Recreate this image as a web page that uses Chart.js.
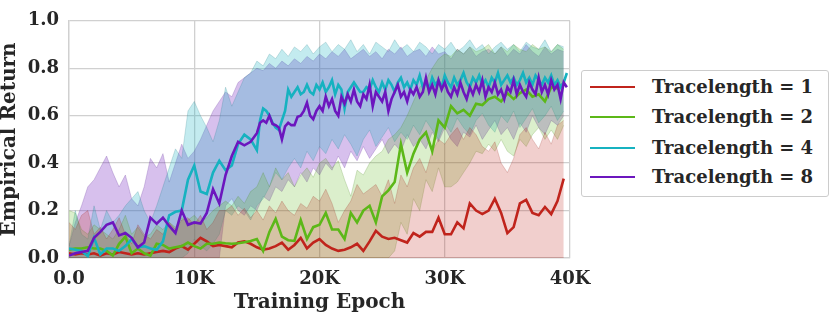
<!DOCTYPE html>
<html><head><meta charset="utf-8">
<script src="https://cdn.jsdelivr.net/npm/chart.js@4.4.0/dist/chart.umd.min.js"></script>
<style>
html,body{margin:0;padding:0;background:#fff;}
#wrap{position:relative;width:831px;height:316px;overflow:hidden;}
#legend{position:absolute;left:581px;top:70px;width:248px;height:127px;border:1px solid #cccccc;border-radius:3px;background:#fff;box-sizing:border-box;font:bold 18px "DejaVu Serif";color:#262626;}
.row{position:absolute;left:0;width:246px;height:30px;display:flex;align-items:center;}
.swatch{position:absolute;left:8px;width:45px;height:2px;}
.lab{position:absolute;left:70px;white-space:nowrap;line-height:30px;}
</style>
</head><body>
<div id="wrap">
<canvas id="c" width="831" height="316"></canvas>
<div id="legend"></div>
</div>
<script>
// ---------- data (x in thousands of epochs) ----------
const epochsCoarse = [0,0.5,1,1.5,2,2.5,3,3.5,4,4.5,5,5.5,6,6.5,7,7.5,8,8.5,9,9.5,
  10,10.5,11,11.5,12,12.5,13,13.5,14,14.5,15,15.5,16,16.5,17,17.5,18,18.5,19,19.5,
  20,20.5,21,21.5,22,22.5,23,23.5,24,24.5,25,25.5,26,26.5,27,27.5,28,28.5,29,29.5,
  30,30.5,31,31.5,32,32.5,33,33.5,34,34.5,35,35.5,36,36.5,37,37.5,38,38.5,39,39.5];
const epochsFine = [15,15.25,15.5,15.75,16,16.25,16.5,16.75,17,17.25,
  17.5,17.75,18,18.25,18.5,18.75,19,19.25,19.5,19.75,
  20,20.25,20.5,20.75,21,21.25,21.5,21.75,22,22.25,
  22.5,22.75,23,23.25,23.5,23.75,24,24.25,24.5,24.75,
  25,25.25,25.5,25.75,26,26.25,26.5,26.75,27,27.25,
  27.5,27.75,28,28.25,28.5,28.75,29,29.25,29.5,29.75,
  30,30.25,30.5,30.75,31,31.25,31.5,31.75,32,32.25,
  32.5,32.75,33,33.25,33.5,33.75,34,34.25,34.5,34.75,
  35,35.25,35.5,35.75,36,36.25,36.5,36.75,37,37.25,
  37.5,37.75,38,38.25,38.5,38.75,39,39.25,39.5,39.75];
const seriesNames = ["Tracelength = 1","Tracelength = 2","Tracelength = 4","Tracelength = 8"];
const xTickLabels = ["0.0","10K","20K","30K","40K"];
const yTickLabels = ["0.0","0.2","0.4","0.6","0.8","1.0"];

// Tracelength = 1 (coarse grid)
const trace1 = [0.02,0.015,0.02,0.015,0.02,0.01,0.02,0.015,0.025,0.02,
  0.015,0.02,0.015,0.02,0.025,0.03,0.025,0.04,0.05,0.035,
  0.06,0.085,0.07,0.05,0.055,0.05,0.045,0.065,0.07,0.06,
  0.045,0.035,0.04,0.05,0.065,0.035,0.055,0.085,0.04,0.065,
  0.08,0.055,0.04,0.03,0.035,0.045,0.06,0.03,0.07,0.115,
  0.09,0.08,0.085,0.075,0.065,0.105,0.09,0.11,0.11,0.17,
  0.1,0.1,0.15,0.125,0.23,0.2,0.185,0.2,0.25,0.19,
  0.105,0.13,0.23,0.245,0.19,0.18,0.215,0.185,0.24,0.335];
const trace1Upper = [0.15,0.12,0.18,0.2,0.1,0.13,0.08,0.12,0.17,0.1,
  0.06,0.14,0.1,0.08,0.12,0.1,0.15,0.12,0.16,0.17,
  0.14,0.18,0.12,0.15,0.2,0.2,0.22,0.18,0.21,0.17,
  0.2,0.16,0.22,0.19,0.24,0.2,0.18,0.23,0.21,0.26,
  0.24,0.29,0.23,0.15,0.2,0.24,0.31,0.27,0.29,0.31,
  0.26,0.33,0.23,0.35,0.3,0.38,0.42,0.36,0.45,0.5,
  0.48,0.52,0.55,0.5,0.55,0.52,0.47,0.45,0.49,0.4,
  0.36,0.42,0.52,0.55,0.5,0.46,0.53,0.48,0.56,0.58];
const trace1Lower = [0,0,0,0,0,0,0,0,0,0,0,0,0,0,0,0,0,0,0,0,
  0,0,0,0,0,0,0,0,0,0,0,0,0,0,0,0,0,0,0,0,
  0,0,0,0,0,0,0,0,0,0,0,0,0,0,0,0,0,0,0,0,
  0,0,0,0,0,0,0,0,0,0,0,0,0,0,0,0,0,0,0,0];

// Tracelength = 2 (coarse grid)
const trace2 = [0.035,0.04,0.04,0.045,0.04,0.04,0.03,0.01,0.06,0.09,
  0.02,0.04,0.02,0.01,0.06,0.055,0.04,0.045,0.05,0.065,
  0.05,0.04,0.06,0.06,0.065,0.062,0.06,0.062,0.066,0.072,
  0.08,0.03,0.11,0.165,0.09,0.075,0.072,0.16,0.08,0.13,
  0.14,0.19,0.12,0.12,0.08,0.19,0.15,0.2,0.22,0.15,
  0.26,0.285,0.32,0.48,0.36,0.44,0.5,0.53,0.45,0.58,
  0.55,0.64,0.61,0.625,0.6,0.65,0.645,0.67,0.68,0.66,
  0.695,0.67,0.695,0.71,0.68,0.69,0.66,0.72,0.715,0.735];
const trace2Upper = [0.2,0.19,0.12,0.1,0.14,0.12,0.1,0.08,0.12,0.18,
  0.1,0.13,0.09,0.1,0.14,0.12,0.15,0.13,0.17,0.16,
  0.18,0.15,0.17,0.2,0.22,0.24,0.22,0.26,0.23,0.28,
  0.3,0.36,0.3,0.38,0.33,0.36,0.3,0.35,0.38,0.34,
  0.4,0.42,0.38,0.41,0.33,0.26,0.37,0.35,0.4,0.43,
  0.45,0.5,0.52,0.55,0.6,0.66,0.72,0.75,0.8,0.84,
  0.86,0.85,0.88,0.86,0.89,0.87,0.88,0.9,0.86,0.89,
  0.87,0.9,0.88,0.87,0.9,0.88,0.89,0.87,0.9,0.88];
const trace2Lower = [0,0,0,0,0,0,0,0,0,0,0,0,0,0,0,0,0,0,0,0,
  0,0,0,0,0,0,0,0,0,0,0,0,0,0,0,0,0,0,0,0,
  0,0,0,0,0,0,0,0,0,0,0,0,0.03,0.15,0.1,0.25,0.2,0.33,0.28,0.38,
  0.3,0.3,0.32,0.36,0.4,0.45,0.44,0.48,0.45,0.5,0.45,0.43,0.5,0.47,0.52,0.55,0.5,0.54,0.5,0.56];

// Tracelength = 4 (coarse grid to 14.5K, then fine grid)
const trace4Early = [0.04,0.035,0.03,0.008,0.085,0.015,0.04,0.04,0.03,0.05,
  0.08,0.045,0.05,0.04,0.035,0.07,0.18,0.195,0.2,0.33,
  0.39,0.28,0.27,0.36,0.41,0.37,0.39,0.48,0.52,0.5];
const trace4Late = [0.455,0.58,0.63,0.62,0.6,0.57,0.55,0.54,0.58,0.62,
  0.71,0.68,0.7,0.72,0.69,0.7,0.73,0.7,0.69,0.73,
  0.71,0.74,0.7,0.72,0.75,0.69,0.73,0.71,0.63,0.7,
  0.72,0.74,0.72,0.7,0.7,0.72,0.71,0.75,0.72,0.7,
  0.74,0.71,0.75,0.73,0.7,0.74,0.76,0.72,0.74,0.71,
  0.75,0.73,0.77,0.72,0.74,0.71,0.76,0.73,0.75,0.72,
  0.77,0.74,0.72,0.76,0.73,0.75,0.78,0.74,0.72,0.76,
  0.74,0.77,0.73,0.75,0.72,0.76,0.74,0.78,0.73,0.75,
  0.77,0.74,0.76,0.73,0.75,0.78,0.74,0.76,0.73,0.77,
  0.75,0.73,0.76,0.74,0.77,0.73,0.75,0.72,0.74,0.78];
const trace4Upper = [0.05,0.2,0.1,0.08,0.22,0.12,0.2,0.15,0.18,0.22,
  0.25,0.28,0.2,0.15,0.22,0.3,0.38,0.46,0.42,0.62,
  0.66,0.6,0.55,0.49,0.58,0.72,0.64,0.7,0.76,0.78,
  0.83,0.81,0.86,0.84,0.88,0.85,0.89,0.87,0.9,0.86,
  0.89,0.91,0.87,0.9,0.88,0.92,0.87,0.9,0.86,0.91,
  0.89,0.87,0.92,0.88,0.9,0.87,0.91,0.89,0.86,0.9,
  0.88,0.91,0.87,0.89,0.92,0.88,0.9,0.86,0.89,0.91,
  0.88,0.9,0.87,0.91,0.89,0.88,0.92,0.87,0.9,0.89];
const trace4Lower = [0,0,0,0,0,0,0,0,0,0,0,0,0,0,0,0,0,0,0,0.02,
  0.08,0.05,0.03,0.06,0.1,0.2,0.18,0.22,0.2,0.16,
  0.22,0.25,0.3,0.36,0.33,0.38,0.42,0.38,0.45,0.41,
  0.47,0.44,0.5,0.46,0.52,0.48,0.43,0.5,0.54,0.47,
  0.51,0.55,0.49,0.53,0.5,0.56,0.52,0.58,0.54,0.5,
  0.57,0.53,0.59,0.55,0.52,0.58,0.61,0.56,0.53,0.6,
  0.57,0.62,0.55,0.59,0.63,0.57,0.6,0.64,0.58,0.62];

// Tracelength = 8 (coarse grid to 14.5K, then fine grid)
const trace8Early = [0.01,0.02,0.025,0.03,0.085,0.11,0.14,0.15,0.095,0.105,
  0.085,0.045,0.065,0.17,0.145,0.17,0.135,0.105,0.2,0.14,
  0.15,0.145,0.19,0.29,0.23,0.35,0.43,0.49,0.475,0.49];
const trace8Late = [0.526,0.57,0.58,0.57,0.6,0.565,0.56,0.55,0.5,0.555,
  0.57,0.56,0.56,0.595,0.6,0.62,0.655,0.6,0.585,0.62,
  0.64,0.62,0.68,0.64,0.67,0.62,0.6,0.68,0.65,0.69,
  0.66,0.71,0.66,0.64,0.69,0.67,0.73,0.64,0.7,0.68,
  0.66,0.7,0.62,0.67,0.7,0.73,0.68,0.7,0.66,0.71,
  0.69,0.72,0.68,0.7,0.76,0.7,0.73,0.69,0.75,0.71,
  0.74,0.7,0.68,0.72,0.69,0.74,0.7,0.67,0.72,0.69,
  0.73,0.7,0.75,0.68,0.72,0.7,0.74,0.69,0.71,0.67,
  0.72,0.7,0.75,0.69,0.73,0.7,0.68,0.74,0.71,0.69,
  0.76,0.7,0.73,0.69,0.75,0.71,0.73,0.67,0.74,0.72];
const trace8Upper = [0.05,0.15,0.22,0.3,0.33,0.38,0.43,0.36,0.3,0.35,
  0.25,0.22,0.3,0.42,0.38,0.44,0.32,0.4,0.48,0.42,
  0.45,0.5,0.56,0.62,0.66,0.7,0.68,0.74,0.76,0.78,
  0.8,0.79,0.82,0.8,0.83,0.81,0.84,0.82,0.85,0.83,
  0.86,0.84,0.87,0.85,0.88,0.84,0.86,0.88,0.85,0.87,
  0.84,0.88,0.86,0.89,0.85,0.87,0.88,0.85,0.89,0.86,
  0.87,0.84,0.88,0.86,0.89,0.85,0.87,0.88,0.86,0.89,
  0.85,0.88,0.86,0.9,0.87,0.85,0.89,0.86,0.88,0.87];
const trace8Lower = [0,0,0,0,0,0,0,0,0,0,0,0,0,0,0,0,0,0,0,0,
  0,0,0,0,0,0.22,0.25,0.2,0.18,0.22,
  0.2,0.26,0.24,0.3,0.28,0.33,0.3,0.36,0.32,0.38,
  0.35,0.4,0.37,0.43,0.38,0.45,0.41,0.47,0.42,0.46,
  0.5,0.44,0.48,0.45,0.52,0.47,0.5,0.46,0.53,0.49,
  0.55,0.5,0.47,0.53,0.51,0.56,0.5,0.54,0.58,0.52,
  0.55,0.5,0.57,0.53,0.6,0.55,0.52,0.58,0.56,0.6];

// ---------- build ----------
const colors = ["rgb(192,36,28)","rgb(92,184,24)","rgb(22,178,192)","rgb(108,22,190)"];
const bandFill = ["rgba(192,36,28,0.22)","rgba(92,184,24,0.22)","rgba(22,178,192,0.26)","rgba(108,22,190,0.27)"];
const bandEdge = ["rgba(150,40,30,0.35)","rgba(70,130,30,0.35)","rgba(30,120,130,0.35)","rgba(80,30,140,0.35)"];

function pts(xs, ys){ return ys.map((y,i)=>({x:xs[i], y:y})); }
const epochs48 = epochsCoarse.slice(0,30).concat(epochsFine);

const lines = [
  pts(epochsCoarse, trace1),
  pts(epochsCoarse, trace2),
  pts(epochs48, trace4Early.concat(trace4Late)),
  pts(epochs48, trace8Early.concat(trace8Late))
];
const uppers = [trace1Upper, trace2Upper, trace4Upper, trace8Upper];
const lowers = [trace1Lower, trace2Lower, trace4Lower, trace8Lower];

const datasets = [];
for (let s=0;s<4;s++){
  datasets.push({label:'_u'+s, data:pts(epochsCoarse, uppers[s]), fill:'+1', backgroundColor:bandFill[s],
    borderColor:bandEdge[s], borderWidth:0.6, pointRadius:0, tension:0, order:10});
  datasets.push({label:'_l'+s, data:pts(epochsCoarse, lowers[s]), fill:false,
    borderColor:bandEdge[s], borderWidth:0.6, pointRadius:0, tension:0, order:10});
}
for (let s=0;s<4;s++){
  datasets.push({label:seriesNames[s], data:lines[s], fill:false, borderColor:colors[s],
    borderWidth:2.6, pointRadius:0, tension:0, order:4-s, borderJoinStyle:'miter'});
}

const FONT = '"DejaVu Serif", serif';
const gridColor = '#d0d0d0';
new Chart(document.getElementById('c'), {
  type:'line',
  data:{datasets},
  options:{
    responsive:false, animation:false, devicePixelRatio:1, events:[],
    layout:{padding:{top:9,right:261,left:0,bottom:0}},
    plugins:{legend:{display:false}, tooltip:{enabled:false}},
    scales:{
      x:{type:'linear', min:0, max:40,
        afterFit:(s)=>{s.height=58;},
        grid:{color:gridColor, lineWidth:1.3, drawTicks:false},
        border:{color:gridColor, width:1.3},
        ticks:{stepSize:10, padding:11, color:'#262626', font:{family:FONT, size:18, weight:'bold'},
          callback:(v)=>xTickLabels[Math.round(v/10)]},
        title:{display:true, text:'Training Epoch', color:'#262626', padding:{top:0,bottom:1},
          font:{family:FONT, size:20, weight:'bold', lineHeight:1.2}}
      },
      y:{min:0, max:1,
        afterFit:(s)=>{s.width=69;},
        grid:{color:gridColor, lineWidth:1.3, drawTicks:false},
        border:{color:gridColor, width:1.3},
        ticks:{stepSize:0.2, padding:10, color:'#262626', font:{family:FONT, size:18, weight:'bold'},
          callback:(v)=>yTickLabels[Math.round(v*5)]},
        title:{display:true, text:'Empirical Return', color:'#262626', padding:{top:0,bottom:0},
          font:{family:FONT, size:20, weight:'bold', lineHeight:1.0}}
      }
    }
  }
});

// legend
const leg = document.getElementById('legend');
const centers = [16, 46, 76.5, 106];
seriesNames.forEach((n,i)=>{
  const r = document.createElement('div'); r.className='row'; r.style.top=(centers[i]-15)+'px';
  const sw = document.createElement('div'); sw.className='swatch'; sw.style.background=colors[i];
  const lb = document.createElement('div'); lb.className='lab'; lb.textContent=n;
  r.appendChild(sw); r.appendChild(lb); leg.appendChild(r);
});
</script>
</body></html>
